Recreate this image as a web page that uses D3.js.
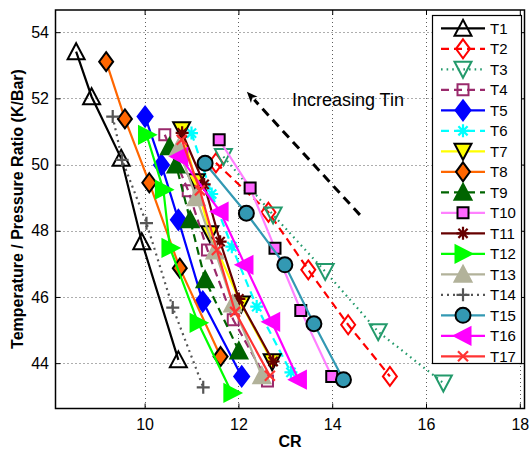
<!DOCTYPE html>
<html><head><meta charset="utf-8">
<script src="https://cdn.jsdelivr.net/npm/d3@7"></script>
<style>
body{margin:0;background:#fff}
svg{display:block}
text{font-family:"Liberation Sans",Arial,Helvetica,sans-serif;fill:#000}
</style>
</head><body>
<svg id="c" width="529" height="449"></svg>
<script>
// ---- data (CR on x, Temperature/Pressure ratio on y) ----
const seriesNames = ["T1","T2","T3","T4","T5","T6","T7","T8","T9","T10","T11","T12","T13","T14","T15","T16","T17"];
const cr_T1  = [8.54, 8.87, 9.50, 9.94, 10.72];
const tp_T1  = [53.41, 52.05, 50.19, 47.67, 44.10];
const cr_T2  = [11.52, 12.64, 13.49, 14.34, 15.23];
const tp_T2  = [50.05, 48.56, 46.82, 45.16, 43.60];
const cr_T3  = [11.68, 12.74, 13.85, 14.98, 16.37];
const tp_T3  = [50.24, 48.48, 46.77, 44.95, 43.40];
const cr_T4  = [10.43, 10.93, 11.34, 11.89, 12.62];
const tp_T4  = [50.90, 49.21, 47.42, 45.31, 43.46];
const cr_T5  = [10.01, 10.36, 10.72, 11.24, 12.07];
const tp_T5  = [51.45, 49.99, 48.33, 45.86, 43.60];
const cr_T6  = [11.00, 11.43, 11.86, 12.39, 13.12];
const tp_T6  = [50.95, 49.11, 47.52, 45.71, 43.72];
const cr_T7  = [10.79, 11.10, 11.39, 12.06, 12.72];
const tp_T7  = [51.05, 49.48, 47.91, 45.79, 44.04];
const cr_T8  = [9.18, 9.58, 10.10, 10.75, 11.62];
const tp_T8  = [53.11, 51.38, 49.45, 46.87, 44.20];
const cr_T9  = [10.53, 10.67, 10.97, 11.29, 12.01];
const tp_T9  = [50.54, 49.99, 48.33, 46.52, 44.37];
const cr_T10 = [11.59, 12.25, 12.78, 13.33, 13.99];
const tp_T10 = [50.75, 49.29, 47.47, 45.59, 43.60];
const cr_T11 = [10.80, 11.27, 11.61, 12.01, 12.74];
const tp_T11 = [50.96, 49.40, 47.67, 45.94, 44.05];
const cr_T12 = [10.04, 10.40, 10.54, 11.14, 11.86];
const tp_T12 = [50.90, 49.24, 47.48, 45.22, 43.10];
const cr_T13 = [10.72, 11.10, 11.50, 11.88, 12.50];
const tp_T13 = [50.50, 49.00, 47.39, 45.79, 43.62];
const cr_T14 = [9.32, 9.52, 10.04, 10.60, 11.25];
const tp_T14 = [51.45, 50.14, 48.23, 45.68, 43.27];
const cr_T15 = [11.29, 12.17, 12.99, 13.61, 14.24];
const tp_T15 = [50.04, 48.53, 46.97, 45.19, 43.50];
const cr_T16 = [10.75, 11.61, 12.14, 12.71, 13.28];
const tp_T16 = [50.24, 48.58, 46.97, 45.25, 43.50];
const cr_T17 = [10.79, 11.18, 11.54, 11.93, 12.67];
const tp_T17 = [50.75, 49.22, 47.42, 45.55, 43.62];

const xTicks = [10, 12, 14, 16, 18];
const yTicks = [44, 46, 48, 50, 52, 54];
const xLabel = "CR";
const yLabel = "Temperature / Pressure Ratio (K/Bar)";
const noteText = "Increasing Tin";
const arrowFrom = [14.59, 48.48];
const arrowTo = [12.18, 52.20];
const notePos = [13.14, 51.77];

const crAll = [cr_T1,cr_T2,cr_T3,cr_T4,cr_T5,cr_T6,cr_T7,cr_T8,cr_T9,cr_T10,cr_T11,cr_T12,cr_T13,cr_T14,cr_T15,cr_T16,cr_T17];
const tpAll = [tp_T1,tp_T2,tp_T3,tp_T4,tp_T5,tp_T6,tp_T7,tp_T8,tp_T9,tp_T10,tp_T11,tp_T12,tp_T13,tp_T14,tp_T15,tp_T16,tp_T17];

// ---- styles ----
const styles = [
 {c:"#000000", dash:null,    m:"^", fill:"none",    edge:"#000000"},
 {c:"#ff0000", dash:"8,5",   m:"d", fill:"none",    edge:"#ff0000"},
 {c:"#239a6b", dash:"1.6,4", m:"v", fill:"none",    edge:"#239a6b"},
 {c:"#9a2a6c", dash:"8,5",   m:"s", fill:"none",    edge:"#9a2a6c"},
 {c:"#0000ff", dash:null,    m:"D", fill:"#0000ff", edge:"#0000ff"},
 {c:"#00ffff", dash:"8,5",   m:"*", fill:"none",    edge:"#00ffff"},
 {c:"#ffff00", dash:null,    m:"v", fill:"#ffff00", edge:"#000000"},
 {c:"#ff6600", dash:null,    m:"d", fill:"#ff6600", edge:"#000000"},
 {c:"#006400", dash:"8,5",   m:"^", fill:"#006400", edge:"#006400"},
 {c:"#ff80ff", dash:null,    m:"s", fill:"#ff66ff", edge:"#000000"},
 {c:"#660000", dash:null,    m:"*", fill:"none",    edge:"#660000"},
 {c:"#00ff00", dash:null,    m:">", fill:"#00ff00", edge:"#00ff00"},
 {c:"#b2b29a", dash:null,    m:"^", fill:"#b2b29a", edge:"#b2b29a"},
 {c:"#555555", dash:"2,4",   m:"+", fill:"none",    edge:"#555555"},
 {c:"#3399b3", dash:null,    m:"o", fill:"#3399b3", edge:"#000000"},
 {c:"#ff00ff", dash:null,    m:"<", fill:"#ff00ff", edge:"#ff00ff"},
 {c:"#ff3333", dash:null,    m:"x", fill:"none",    edge:"#ff3333"}
];

function markerPath(t){
  switch(t){
    case "^": return "M0,-8.5L8.5,7.5L-8.5,7.5Z";
    case "v": return "M0,8.5L8.5,-7.5L-8.5,-7.5Z";
    case ">": return "M9,0L-7.5,-8.5L-7.5,8.5Z";
    case "<": return "M-9,0L7.5,-8.5L7.5,8.5Z";
    case "d": return "M0,-9.5L7,0L0,9.5L-7,0Z";
    case "D": return "M0,-10L7.5,0L0,10L-7.5,0Z";
    case "s": return "M-5.5,-5.5H5.5V5.5H-5.5Z";
    case "o": return d3.arc()({innerRadius:0,outerRadius:7.5,startAngle:0,endAngle:2*Math.PI});
    case "+": return "M-6.5,0H6.5M0,-6.5V6.5";
    case "x": return "M-5,-5L5,5M-5,5L5,-5";
    case "*": { const r=6.5,a=4.6; return `M-${r},0H${r}M0,-${r}V${r}M-${a},-${a}L${a},${a}M-${a},${a}L${a},-${a}`; }
  }
}
function markerStroke(t){ return (t==="+"||t==="x"||t==="*") ? 2.2 : 2; }

const svg = d3.select("#c");
const x = d3.scaleLinear().domain([8.1, 18.1]).range([55.5, 524.5]);
const y = d3.scaleLinear().domain([42.63, 54.67]).range([408.5, 10]);
const L = 55.5, R = 524.5, T = 10, B = 408.5;

// grid
const grid = svg.append("g").attr("stroke","#333").attr("stroke-width",0.8).attr("stroke-dasharray","1,3");
grid.selectAll("line.gx").data(xTicks).join("line").attr("class","gx")
  .attr("x1",d=>Math.round(x(d))+0.5).attr("x2",d=>Math.round(x(d))+0.5).attr("y1",T).attr("y2",B);
grid.selectAll("line.gy").data(yTicks).join("line").attr("class","gy")
  .attr("y1",d=>Math.round(y(d))+0.5).attr("y2",d=>Math.round(y(d))+0.5).attr("x1",L).attr("x2",R);

// series
svg.append("clipPath").attr("id","pc").append("rect").attr("x",L).attr("y",T).attr("width",R-L).attr("height",B-T);
const lineGen = d3.line().x(d=>x(d[0])).y(d=>y(d[1]));
const plotG = svg.append("g");
seriesNames.forEach((name,i)=>{
  const st = styles[i];
  const pts = crAll[i].map((v,k)=>[v, tpAll[i][k]]);
  const g = plotG.append("g");
  g.append("path").attr("d",lineGen(pts)).attr("fill","none").attr("stroke",st.c)
    .attr("stroke-width",2.2).attr("stroke-dasharray",st.dash).attr("clip-path","url(#pc)");
  g.selectAll("path.m").data(pts).join("path").attr("class","m")
    .attr("transform",d=>`translate(${x(d[0])},${y(d[1])})`)
    .attr("d",markerPath(st.m)).attr("fill",st.fill).attr("stroke",st.edge)
    .attr("stroke-width",markerStroke(st.m)).attr("stroke-linejoin","miter");
});

// annotation arrow
const ax0 = x(arrowFrom[0]), ay0 = y(arrowFrom[1]), ax1 = x(arrowTo[0]), ay1 = y(arrowTo[1]);
const ang = Math.atan2(ay1-ay0, ax1-ax0);
const hl = 11, hw = 4.5;
const bx = ax1 - hl*Math.cos(ang), by = ay1 - hl*Math.sin(ang);
svg.append("line").attr("x1",ax0).attr("y1",ay0).attr("x2",bx).attr("y2",by)
  .attr("stroke","#000").attr("stroke-width",3).attr("stroke-dasharray","9,6");
svg.append("path").attr("d",`M${ax1},${ay1}L${bx+hw*Math.sin(ang)},${by-hw*Math.cos(ang)}L${bx+3*Math.cos(ang)},${by+3*Math.sin(ang)}L${bx-hw*Math.sin(ang)},${by+hw*Math.cos(ang)}Z`)
  .attr("fill","#000");
svg.append("text").attr("x",x(notePos[0])).attr("y",y(notePos[1])).attr("font-size",18).text(noteText);

// axes frame & ticks (inward, on all four sides)
const axG = svg.append("g");
axG.append("g").attr("transform",`translate(0,${B})`)
  .call(d3.axisBottom(x).tickValues(xTicks).tickSize(-5).tickPadding(10).tickFormat(d3.format("d")));
axG.append("g").attr("transform",`translate(0,${T})`)
  .call(d3.axisTop(x).tickValues(xTicks).tickSize(-5).tickFormat(""));
axG.append("g").attr("transform",`translate(${L},0)`)
  .call(d3.axisLeft(y).tickValues(yTicks).tickSize(-5).tickPadding(6.5).tickFormat(d3.format("d")));
axG.append("g").attr("transform",`translate(${R},0)`)
  .call(d3.axisRight(y).tickValues(yTicks).tickSize(-5).tickFormat(""));
axG.selectAll(".domain").remove();
axG.selectAll(".tick line").attr("stroke","#000").attr("stroke-width",1);
axG.selectAll(".tick text").attr("font-size",16).attr("font-family","Liberation Sans, Arial, sans-serif").attr("fill","#000");
svg.append("rect").attr("x",L).attr("y",T).attr("width",R-L).attr("height",B-T)
  .attr("fill","none").attr("stroke","#000").attr("stroke-width",1.5);

// axis labels
svg.append("text").attr("x",(L+R)/2).attr("y",447).attr("text-anchor","middle")
  .attr("font-size",16).attr("font-weight","bold").text(xLabel);
svg.append("text").attr("transform","translate(17,209) rotate(-90)").attr("dy","0.35em")
  .attr("text-anchor","middle").attr("font-size",16).attr("font-weight","bold").text(yLabel);

// legend
const lgX = 432.5, lgY = 15.5, lgW = 89, lgH = 348;
const lg = svg.append("g");
lg.append("rect").attr("x",lgX).attr("y",lgY).attr("width",lgW).attr("height",lgH)
  .attr("fill","#fff").attr("stroke","#000").attr("stroke-width",1.2);
seriesNames.forEach((name,i)=>{
  const st = styles[i];
  const yy = 28.3 + i*20.5;
  lg.append("line").attr("x1",441).attr("x2",485).attr("y1",yy).attr("y2",yy)
    .attr("stroke",st.c).attr("stroke-width",2.2).attr("stroke-dasharray",st.dash);
  lg.append("path").attr("transform",`translate(463,${yy})`).attr("d",markerPath(st.m))
    .attr("fill",st.fill).attr("stroke",st.edge).attr("stroke-width",markerStroke(st.m));
  lg.append("text").attr("x",490).attr("y",yy).attr("dy","0.36em").attr("font-size",15).text(name);
});
</script>
</body></html>
